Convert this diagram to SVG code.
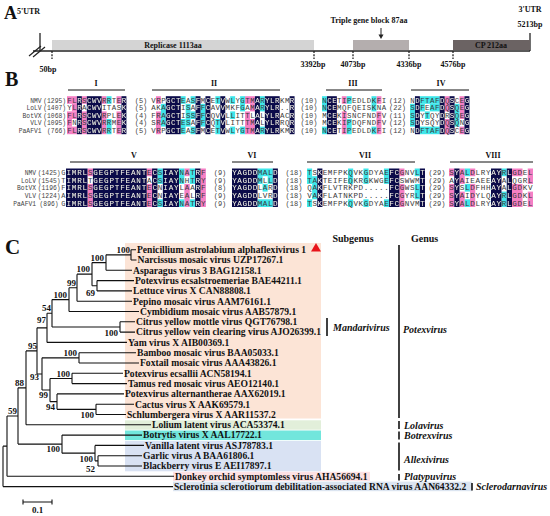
<svg xmlns="http://www.w3.org/2000/svg" width="550" height="516" viewBox="0 0 550 516">
<style>
.big{font-family:"Liberation Serif",serif;font-weight:bold;font-size:20px;fill:#111}
.a8{font-family:"Liberation Serif",serif;font-weight:bold;font-size:8px;fill:#111}
.nm{font-family:"Liberation Mono",monospace;font-size:6.3px;fill:#444}
.mot{font-family:"Liberation Serif",serif;font-weight:bold;font-size:8px;fill:#111}
.leaf{font-family:"Liberation Serif",serif;font-weight:bold;font-size:9.6px;fill:#111}
.bs{font-family:"Liberation Serif",serif;font-weight:bold;font-size:9px;fill:#111;text-anchor:end}
.gen{font-family:"Liberation Serif",serif;font-weight:bold;font-style:italic;font-size:10px;fill:#111}
.hdr{font-family:"Liberation Serif",serif;font-weight:bold;font-size:10px;fill:#111}
.edge{fill:none;stroke:#111;stroke-width:1.1}
.bar{stroke:#111;stroke-width:1.6}
.tick{stroke:#222;stroke-width:1.3;stroke-dasharray:2 1.2}
.pk{fill:#f57fc4}
.cy{fill:#3ee6ea}
.seqT{font-family:"Liberation Mono",monospace;font-size:7.4px}
.seqB{font-family:"Liberation Mono",monospace;font-size:7.6px}
</style>
<defs>
<g id="nv">
<rect x="76.9" y="96.2" width="4.95" height="38"/>
<rect x="86.8" y="96.2" width="14.85" height="38"/>
<rect x="121.45" y="96.2" width="4.95" height="38"/>
<rect x="165.85" y="96.2" width="14.85" height="38"/>
<rect x="195.55" y="96.2" width="4.95" height="38"/>
<rect x="205.45" y="96.2" width="4.95" height="38"/>
<rect x="220.3" y="96.2" width="4.95" height="38"/>
<rect x="254.95" y="96.2" width="4.95" height="38"/>
<rect x="264.85" y="96.2" width="14.85" height="38"/>
<rect x="289.6" y="96.2" width="4.95" height="38"/>
<rect x="326.95" y="96.2" width="9.9" height="38"/>
<rect x="414.95" y="96.2" width="4.95" height="38"/>
<rect x="439.7" y="96.2" width="4.95" height="38"/>
<rect x="449.6" y="96.2" width="4.95" height="38"/>
<rect x="464.45" y="96.2" width="4.95" height="38"/>
<rect x="66" y="168.5" width="21.52" height="38.5"/>
<rect x="92.9" y="168.5" width="53.8" height="38.5"/>
<rect x="152.08" y="168.5" width="5.38" height="38.5"/>
<rect x="162.84" y="168.5" width="16.14" height="38.5"/>
<rect x="195.12" y="168.5" width="5.38" height="38.5"/>
<rect x="232" y="168.5" width="25.5" height="38.5"/>
<rect x="272.8" y="168.5" width="5.1" height="38.5"/>
<rect x="317.26" y="168.5" width="5.13" height="38.5"/>
<rect x="389.08" y="168.5" width="10.26" height="38.5"/>
<rect x="419.86" y="168.5" width="5.13" height="38.5"/>
<rect x="454.25" y="168.5" width="5.25" height="38.5"/>
<rect x="491" y="168.5" width="10.5" height="38.5"/>
<rect x="506.75" y="168.5" width="5.25" height="38.5"/>
</g>
<mask id="nvm" maskUnits="userSpaceOnUse" x="0" y="0" width="550" height="516">
<use href="#nv" fill="#fff"/>
</mask>
<g id="seq">
<g class="seqT">
<text x="67.25" y="102.6" textLength="58.89" lengthAdjust="spacing">FLRSCWVRRTER</text>
<text x="67.25" y="110.2" textLength="58.89" lengthAdjust="spacing">YLRACWVITASK</text>
<text x="67.25" y="117.8" textLength="58.89" lengthAdjust="spacing">FLRSCWVRPLEK</text>
<text x="67.25" y="125.4" textLength="58.89" lengthAdjust="spacing">FNRSCWVRRMEK</text>
<text x="67.25" y="133" textLength="58.89" lengthAdjust="spacing">FLRSCWVRRTER</text>
<text x="151.25" y="102.6" textLength="143.04" lengthAdjust="spacing">VRPGCTEASFMCETVWLYGTMARYLRKMR</text>
<text x="151.25" y="110.2" textLength="143.04" lengthAdjust="spacing">AKAGCTISAFFCAVVMKFGAMARYLR..R</text>
<text x="151.25" y="117.8" textLength="143.04" lengthAdjust="spacing">FRAGCTISSFFCQVVLLITTLALYLRACR</text>
<text x="151.25" y="125.4" textLength="143.04" lengthAdjust="spacing">SRAGCTESAFFCQTVLITTTMALYLRRQR</text>
<text x="151.25" y="133" textLength="143.04" lengthAdjust="spacing">VRPGCTEASFMCETVWLYGTMARYLRKMR</text>
<text x="322.25" y="102.6" textLength="63.84" lengthAdjust="spacing">NCETIPEDLDKFI</text>
<text x="322.25" y="110.2" textLength="63.84" lengthAdjust="spacing">NCEMQFQEISKNA</text>
<text x="322.25" y="117.8" textLength="63.84" lengthAdjust="spacing">MCEKISNCFNDFV</text>
<text x="322.25" y="125.4" textLength="63.84" lengthAdjust="spacing">MCEKIPDQFNDFV</text>
<text x="322.25" y="133" textLength="63.84" lengthAdjust="spacing">NCETIPEDLDKFI</text>
<text x="410.25" y="102.6" textLength="58.89" lengthAdjust="spacing">NDFTAFDQSCEG</text>
<text x="410.25" y="110.2" textLength="58.89" lengthAdjust="spacing">SDFEAFDQSQEG</text>
<text x="410.25" y="117.8" textLength="58.89" lengthAdjust="spacing">SDYTQYDRSQEG</text>
<text x="410.25" y="125.4" textLength="58.89" lengthAdjust="spacing">SDYSQYDQSQNG</text>
<text x="410.25" y="133" textLength="58.89" lengthAdjust="spacing">NDFTAFDQSCEG</text>
</g>
<g class="seqB">
<text x="66.41" y="174.8" textLength="139.06" lengthAdjust="spacing">IMRLSGEGPTFEANTECSIAYNATRF</text>
<text x="66.41" y="182.5" textLength="139.06" lengthAdjust="spacing">IMRLTGEGPTFEANTACSIAYNHTRY</text>
<text x="66.41" y="190.2" textLength="139.06" lengthAdjust="spacing">IMRLSGEGPTFEANTECNIAYLAARF</text>
<text x="66.41" y="197.9" textLength="139.06" lengthAdjust="spacing">IMRLSGEGPTFEANTECNIAYEALRF</text>
<text x="66.41" y="205.6" textLength="139.06" lengthAdjust="spacing">IMRLSGEGPTFEANTECSIAYNATRY</text>
<text x="232.27" y="174.8" textLength="45.36" lengthAdjust="spacing">YAGDDMALD</text>
<text x="232.27" y="182.5" textLength="45.36" lengthAdjust="spacing">YAGDDMLLD</text>
<text x="232.27" y="190.2" textLength="45.36" lengthAdjust="spacing">YAGDDLARD</text>
<text x="232.27" y="197.9" textLength="45.36" lengthAdjust="spacing">YAGDDLVRD</text>
<text x="232.27" y="205.6" textLength="45.36" lengthAdjust="spacing">YAGDDMALD</text>
<text x="307.29" y="174.8" textLength="117.42" lengthAdjust="spacing">TSKEMFPKQVKGDYAEFCGNVLT</text>
<text x="307.29" y="182.5" textLength="117.42" lengthAdjust="spacing">TAKTEIFEQKRGKWGEFCSWWMT</text>
<text x="307.29" y="190.2" textLength="117.42" lengthAdjust="spacing">QAKFLVTRKPD.....FCGWSLT</text>
<text x="307.29" y="197.9" textLength="117.42" lengthAdjust="spacing">VAKFLATNKPD.....FCGYRLT</text>
<text x="307.29" y="205.6" textLength="117.42" lengthAdjust="spacing">TSKEMFPKQVKGDYAEFCGNVMT</text>
<text x="449.35" y="174.8" textLength="83.31" lengthAdjust="spacing">SYALDLRYAYRLGDEL</text>
<text x="449.35" y="182.5" textLength="83.31" lengthAdjust="spacing">AYAIEAEEAYALQGRL</text>
<text x="449.35" y="190.2" textLength="83.31" lengthAdjust="spacing">SYSLDFHHAYALGDKV</text>
<text x="449.35" y="197.9" textLength="83.31" lengthAdjust="spacing">SYAIDYLQAYRLGDKL</text>
<text x="449.35" y="205.6" textLength="83.31" lengthAdjust="spacing">SYALDLRYAYRLGDEL</text>
</g>
</g>
</defs>

<g id="panelA">
<text class="big" x="4" y="19" style="font-size:18px">A</text>
<text class="a8" x="17" y="14">5'UTR</text>
<text class="a8" x="530" y="12" text-anchor="middle">3'UTR</text>
<text class="a8" x="530" y="27" text-anchor="middle">5213bp</text>
<g id="genome-axis">
<line x1="33" y1="51" x2="530" y2="51" stroke="#222" stroke-width="1.6"/>
<line x1="40" y1="33" x2="40" y2="51" stroke="#222" stroke-width="1.3"/>
<line x1="530" y1="33" x2="530" y2="51" stroke="#222" stroke-width="1.3"/>
<line x1="29" y1="56" x2="41" y2="46" stroke="#222" stroke-width="1.2"/>
<line x1="33" y1="57" x2="45" y2="47" stroke="#222" stroke-width="1.2"/>
</g>
<g id="replicase">
<rect x="52" y="40" width="262" height="10" fill="#d4d4d4"/>
<text class="a8" x="173" y="48" text-anchor="middle">Replicase 1113aa</text>
</g>
<g id="tgb">
<rect x="353" y="40" width="56" height="10" fill="#b4aeae"/>
<text class="a8" x="369" y="23" text-anchor="middle">Triple gene block 87aa</text>
<line x1="381" y1="28" x2="381" y2="35" stroke="#222" stroke-width="1"/>
<polygon points="378.5,34.5 383.5,34.5 381,39" fill="#222"/>
</g>
<g id="cp">
<rect x="453" y="40" width="77" height="10" fill="#6b6363"/>
<text class="a8" x="491" y="48" text-anchor="middle">CP 212aa</text>
</g>
<g id="ticks">
<line class="tick" x1="52" y1="51" x2="52" y2="59"/>
<line class="tick" x1="314" y1="51" x2="314" y2="59"/>
<line class="tick" x1="353" y1="51" x2="353" y2="59"/>
<line class="tick" x1="409" y1="51" x2="409" y2="59"/>
<line class="tick" x1="453" y1="51" x2="453" y2="59"/>
<text class="a8" x="48" y="72" text-anchor="middle">50bp</text>
<text class="a8" x="313" y="67" text-anchor="middle">3392bp</text>
<text class="a8" x="353" y="67" text-anchor="middle">4073bp</text>
<text class="a8" x="409" y="67" text-anchor="middle">4336bp</text>
<text class="a8" x="453" y="67" text-anchor="middle">4576bp</text>
</g>
</g>

<g id="panelB">
<text class="big" x="5" y="86">B</text>
<g id="motifs" stroke="#111" stroke-width="1">
<line x1="68" y1="90" x2="125" y2="90"/>
<line x1="152" y1="90" x2="280" y2="90"/>
<line x1="326" y1="90" x2="382" y2="90"/>
<line x1="411" y1="90" x2="469" y2="90"/>
<line x1="70" y1="162" x2="200" y2="162"/>
<line x1="232" y1="162" x2="273" y2="162"/>
<line x1="307" y1="162" x2="415" y2="162"/>
<line x1="450" y1="162" x2="533" y2="162"/>
</g>
<g class="mot" text-anchor="middle">
<text x="96" y="86">I</text>
<text x="214" y="86">II</text>
<text x="353" y="86">III</text>
<text x="441" y="86">IV</text>
<text x="134" y="158">V</text>
<text x="252" y="158">VI</text>
<text x="365" y="158">VII</text>
<text x="493" y="158">VIII</text>
</g>
<g id="names" class="nm">
<g text-anchor="end">
<text x="41.5" y="102.6">NMV</text><text x="66" y="102.6">(1295)</text>
<text x="41.5" y="110.2">LoLV</text><text x="66" y="110.2">(1407)</text>
<text x="41.5" y="117.8">BotVX</text><text x="66" y="117.8">(1068)</text>
<text x="41.5" y="125.4">VLV</text><text x="66" y="125.4">(1095)</text>
<text x="41.5" y="133">PaAFV1</text><text x="66" y="133">(766)</text>
<text x="36" y="174.8">NMV</text><text x="60.5" y="174.8">(1425)</text>
<text x="36" y="182.5">LoLV</text><text x="60.5" y="182.5">(1545)</text>
<text x="36" y="190.2">BotVX</text><text x="60.5" y="190.2">(1196)</text>
<text x="36" y="197.9">VLV</text><text x="60.5" y="197.9">(1224)</text>
<text x="36" y="205.6">PaAFV1</text><text x="58.5" y="205.6">(896)</text>
</g>
<g style="font-size:7px">
<text x="61.3" y="174.8">G</text>
<text x="61.3" y="182.5">T</text>
<text x="61.3" y="190.2">F</text>
<text x="61.3" y="197.9">A</text>
<text x="61.3" y="205.6">G</text>
</g>
<g text-anchor="middle" style="font-size:7px">
<text x="141" y="102.6">(5)</text><text x="141" y="110.2">(5)</text><text x="141" y="117.8">(4)</text><text x="141" y="125.4">(4)</text><text x="141" y="133">(5)</text>
<text x="309" y="102.6">(10)</text><text x="309" y="110.2">(10)</text><text x="309" y="117.8">(10)</text><text x="309" y="125.4">(10)</text><text x="309" y="133">(10)</text>
<text x="397.5" y="102.6">(12)</text><text x="397.5" y="110.2">(22)</text><text x="397.5" y="117.8">(11)</text><text x="397.5" y="125.4">(12)</text><text x="397.5" y="133">(12)</text>
<text x="220" y="174.8">(9)</text><text x="220" y="182.5">(9)</text><text x="220" y="190.2">(8)</text><text x="220" y="197.9">(9)</text><text x="220" y="205.6">(9)</text>
<text x="294" y="174.8">(18)</text><text x="294" y="182.5">(18)</text><text x="294" y="190.2">(18)</text><text x="294" y="197.9">(18)</text><text x="294" y="205.6">(18)</text>
<text x="437" y="174.8">(29)</text><text x="437" y="182.5">(29)</text><text x="437" y="190.2">(29)</text><text x="437" y="197.9">(29)</text><text x="437" y="205.6">(29)</text>
</g>
</g>
<g id="shading">
<g class="pk">
<rect x="67" y="96.2" width="9.9" height="7.6"/>
<rect x="71.95" y="103.8" width="4.95" height="7.6"/>
<rect x="67" y="111.4" width="9.9" height="7.6"/>
<rect x="67" y="119" width="4.95" height="7.6"/>
<rect x="67" y="126.6" width="9.9" height="7.6"/>
<rect x="81.85" y="96.2" width="4.95" height="7.6"/><rect x="81.85" y="111.4" width="4.95" height="22.8"/>
<rect x="101.65" y="96.2" width="4.95" height="7.6"/><rect x="101.65" y="111.4" width="4.95" height="22.8"/>
<rect x="116.5" y="96.2" width="4.95" height="7.6"/><rect x="116.5" y="111.4" width="4.95" height="22.8"/>
<rect x="155.95" y="96.2" width="4.95" height="7.6"/><rect x="155.95" y="111.4" width="4.95" height="22.8"/>
<rect x="245.05" y="96.2" width="9.9" height="7.6"/>
<rect x="250" y="103.8" width="4.95" height="7.6"/>
<rect x="245.05" y="111.4" width="4.95" height="7.6"/>
<rect x="245.05" y="119" width="9.9" height="15.2"/>
<rect x="341.8" y="96.2" width="4.95" height="7.6"/><rect x="341.8" y="111.4" width="4.95" height="22.8"/>
<rect x="376.45" y="96.2" width="4.95" height="7.6"/><rect x="376.45" y="111.4" width="4.95" height="22.8"/>
<rect x="444.65" y="96.2" width="4.95" height="15.2"/><rect x="444.65" y="119" width="4.95" height="15.2"/>
<rect x="459.5" y="96.2" width="4.95" height="22.8"/><rect x="459.5" y="126.6" width="4.95" height="7.6"/>
<rect x="87.52" y="168.5" width="5.38" height="7.7"/><rect x="87.52" y="183.9" width="5.38" height="23.1"/>
<rect x="146.7" y="168.5" width="5.38" height="7.7"/><rect x="146.7" y="183.9" width="5.38" height="23.1"/>
<rect x="184.36" y="168.5" width="5.38" height="7.7"/><rect x="184.36" y="183.9" width="5.38" height="23.1"/>
<rect x="200.5" y="168.5" width="5.38" height="38.5"/>
<rect x="399.34" y="168.5" width="5.13" height="7.7"/><rect x="399.34" y="183.9" width="5.13" height="23.1"/>
<rect x="449" y="168.5" width="5.25" height="7.7"/><rect x="449" y="183.9" width="5.25" height="23.1"/>
<rect x="459.5" y="168.5" width="5.25" height="15.4"/><rect x="459.5" y="191.6" width="5.25" height="15.4"/>
<rect x="470" y="168.5" width="5.25" height="7.7"/><rect x="470" y="183.9" width="5.25" height="23.1"/>
<rect x="512" y="168.5" width="10.5" height="7.7"/><rect x="512" y="183.9" width="10.5" height="23.1"/>
<rect x="527.75" y="168.5" width="5.25" height="15.4"/><rect x="527.75" y="191.6" width="5.25" height="15.4"/>
</g>
<g class="cy">
<rect x="106.6" y="96.2" width="4.95" height="7.6"/><rect x="106.6" y="119" width="4.95" height="15.2"/>
<rect x="160.9" y="103.8" width="4.95" height="22.8"/>
<rect x="180.7" y="96.2" width="4.95" height="7.6"/><rect x="180.7" y="119" width="4.95" height="15.2"/>
<rect x="185.65" y="103.8" width="4.95" height="22.8"/>
<rect x="190.6" y="96.2" width="4.95" height="7.6"/><rect x="190.6" y="111.4" width="4.95" height="7.6"/><rect x="190.6" y="126.6" width="4.95" height="7.6"/>
<rect x="200.5" y="103.8" width="4.95" height="22.8"/>
<rect x="215.35" y="96.2" width="4.95" height="7.6"/><rect x="215.35" y="119" width="4.95" height="15.2"/>
<rect x="230.2" y="96.2" width="4.95" height="7.6"/><rect x="230.2" y="111.4" width="4.95" height="7.6"/><rect x="230.2" y="126.6" width="4.95" height="7.6"/>
<rect x="240.1" y="96.2" width="4.95" height="15.2"/><rect x="240.1" y="126.6" width="4.95" height="7.6"/>
<rect x="259.9" y="96.2" width="4.95" height="15.2"/><rect x="259.9" y="126.6" width="4.95" height="7.6"/>
<rect x="322" y="96.2" width="4.95" height="15.2"/><rect x="322" y="126.6" width="4.95" height="7.6"/>
<rect x="346.75" y="96.2" width="4.95" height="7.6"/><rect x="346.75" y="119" width="4.95" height="15.2"/>
<rect x="371.5" y="96.2" width="4.95" height="15.2"/><rect x="371.5" y="126.6" width="4.95" height="7.6"/>
<rect x="410" y="103.8" width="4.95" height="22.8"/>
<rect x="419.9" y="96.2" width="19.8" height="7.6"/>
<rect x="419.9" y="103.8" width="4.95" height="7.6"/><rect x="429.8" y="103.8" width="9.9" height="7.6"/>
<rect x="424.85" y="111.4" width="4.95" height="7.6"/>
<rect x="419.9" y="126.6" width="19.8" height="7.6"/>
<rect x="454.55" y="103.8" width="4.95" height="22.8"/>
<rect x="157.46" y="168.5" width="5.38" height="15.4"/><rect x="157.46" y="199.3" width="5.38" height="7.7"/>
<rect x="178.98" y="168.5" width="5.38" height="15.4"/><rect x="178.98" y="199.3" width="5.38" height="7.7"/>
<rect x="189.74" y="168.5" width="5.38" height="15.4"/><rect x="189.74" y="199.3" width="5.38" height="7.7"/>
<rect x="257.5" y="168.5" width="15.3" height="7.7"/>
<rect x="257.5" y="176.2" width="5.1" height="7.7"/><rect x="267.7" y="176.2" width="5.1" height="7.7"/>
<rect x="262.6" y="183.9" width="5.1" height="7.7"/>
<rect x="257.5" y="199.3" width="15.3" height="7.7"/>
<rect x="307" y="168.5" width="5.13" height="15.4"/><rect x="307" y="199.3" width="5.13" height="7.7"/>
<rect x="312.13" y="176.2" width="5.13" height="23.1"/>
<rect x="348.04" y="168.5" width="5.13" height="15.4"/><rect x="348.04" y="199.3" width="5.13" height="7.7"/>
<rect x="363.43" y="168.5" width="5.13" height="15.4"/><rect x="363.43" y="199.3" width="5.13" height="7.7"/>
<rect x="383.95" y="168.5" width="5.13" height="15.4"/><rect x="383.95" y="199.3" width="5.13" height="7.7"/>
<rect x="414.73" y="168.5" width="5.13" height="7.7"/><rect x="414.73" y="183.9" width="5.13" height="15.4"/>
<rect x="464.75" y="168.5" width="5.25" height="7.7"/><rect x="464.75" y="183.9" width="5.25" height="7.7"/><rect x="464.75" y="199.3" width="5.25" height="7.7"/>
<rect x="501.5" y="168.5" width="5.25" height="7.7"/><rect x="501.5" y="191.6" width="5.25" height="15.4"/>
</g>
<use href="#nv" fill="#0b0b4a"/>
</g>
<use href="#seq" fill="#3a3a3a"/>
<use href="#seq" fill="#f2f2f2" mask="url(#nvm)"/>
</g>

<g id="panelC">
<text class="big" x="5" y="254" style="font-size:21px">C</text>
<g id="clade-backgrounds">
<rect x="125" y="243" width="196" height="175.5" fill="#fce4d6"/>
<rect x="125" y="420.3" width="196" height="9.4" fill="#e2efda"/>
<rect x="125" y="430.5" width="196" height="9.6" fill="#72e6dc"/>
<rect x="125" y="441" width="196" height="30.3" fill="#d9e2f3"/>
<rect x="173" y="471.8" width="197" height="9.2" fill="#fde1e3"/>
<rect x="173" y="481.6" width="299" height="9.6" fill="#dce5f1"/>
</g>
<g id="tree-edges" class="edge">
<path d="M131 249.7V260M131 249.7H136M131 260H136.5M106 254.85H131"/>
<path d="M106 254.85V270.3M106 270.3H132M92 262.58H106"/>
<path d="M97 280.6V290.9M97 280.6H134M97 290.9H132M92 285.75H97"/>
<path d="M92 262.58V285.75M77 274.16H92"/>
<path d="M77 274.16V301.2M77 301.2H132M69 287.68H77"/>
<path d="M69 287.68V311.5M69 311.5H139M52 299.59H69"/>
<path d="M120 321.8V332.1M120 321.8H135M120 332.1H135M52 326.95H120"/>
<path d="M52 299.59V326.95M47 313.27H52"/>
<path d="M47 313.27V342.4M47 342.4H127M37 327.84H47"/>
<path d="M79 352.7V363M79 352.7H136M79 363H139M42 357.85H79"/>
<path d="M72 373.3V383.6M72 373.3H123M72 383.6H127M50 378.45H72"/>
<path d="M96 404.2V414.5M96 404.2H134M96 414.5H126M57 409.35H96"/>
<path d="M57 393.9V409.35M57 393.9H124M50 401.63H57"/>
<path d="M50 378.45V401.63M42 390.04H50"/>
<path d="M42 357.85V390.04M37 373.94H42"/>
<path d="M37 327.84V373.94M26 350.89H37"/>
<path d="M26 350.89V424.8M26 424.8H151M18 387.85H26"/>
<path d="M98 455.7V466M98 455.7H142M98 466H142M95 460.85H98"/>
<path d="M95 445.4V460.85M95 445.4H144M62 453.13H95"/>
<path d="M62 435.1V453.13M62 435.1H142M18 444.11H62"/>
<path d="M18 387.85V444.11M7 415.98H18"/>
<path d="M7 415.98V476.3M7 476.3H174M3 446.14H7"/>
<path d="M3 446.14V486.6M3 486.6H173"/>
</g>
<g id="bootstrap">
<text class="bs" x="130" y="253">100</text>
<text class="bs" x="104" y="260.5">100</text>
<text class="bs" x="90" y="272">100</text>
<text class="bs" x="95" y="296">69</text>
<text class="bs" x="76" y="286">99</text>
<text class="bs" x="67" y="298">100</text>
<text class="bs" x="51" y="311">54</text>
<text class="bs" x="46" y="323">97</text>
<text class="bs" x="118" y="336">100</text>
<text class="bs" x="37" y="349">95</text>
<text class="bs" x="77" y="356">100</text>
<text class="bs" x="70" y="377">100</text>
<text class="bs" x="39" y="380">93</text>
<text class="bs" x="24" y="386">88</text>
<text class="bs" x="48" y="398">99</text>
<text class="bs" x="55" y="410">94</text>
<text class="bs" x="94" y="418">100</text>
<text class="bs" x="17" y="414">59</text>
<text class="bs" x="60" y="452">100</text>
<text class="bs" x="93" y="462">100</text>
<text class="bs" x="95" y="472">52</text>
</g>
<g id="leaves" class="leaf">
<g id="leaf-0"><text x="137" y="253">Penicillium astrolabium alphaflexivirus 1</text><polygon points="311,251.5 321,251.5 316,243" fill="#e8141b"/></g>
<g id="leaf-1"><text x="137.5" y="263.3">Narcissus mosaic virus UZP17267.1</text></g>
<g id="leaf-2"><text x="133" y="273.6">Asparagus virus 3 BAG12158.1</text></g>
<g id="leaf-3"><text x="135" y="283.9">Potexvirus ecsalstroemeriae BAE44211.1</text></g>
<g id="leaf-4"><text x="133" y="294.2">Lettuce virus X CAN88808.1</text></g>
<g id="leaf-5"><text x="133" y="304.5">Pepino mosaic virus AAM76161.1</text></g>
<g id="leaf-6"><text x="140" y="314.8">Cymbidium mosaic virus AAB57879.1</text></g>
<g id="leaf-7"><text x="136" y="325.1">Citrus yellow mottle virus QGT76798.1</text></g>
<g id="leaf-8"><text x="136" y="335.4">Citrus yellow vein clearing virus AJO26399.1</text></g>
<g id="leaf-9"><text x="128" y="345.7">Yam virus X AIB00369.1</text></g>
<g id="leaf-10"><text x="137" y="356">Bamboo mosaic virus BAA05033.1</text></g>
<g id="leaf-11"><text x="140" y="366.3">Foxtail mosaic virus AAA43826.1</text></g>
<g id="leaf-12"><text x="124" y="376.6">Potexvirus ecsallii ACN58194.1</text></g>
<g id="leaf-13"><text x="128" y="386.9">Tamus red mosaic virus AEO12140.1</text></g>
<g id="leaf-14"><text x="125" y="397.2">Potexvirus alternantherae AAX62019.1</text></g>
<g id="leaf-15"><text x="135" y="407.5">Cactus virus X AAK69579.1</text></g>
<g id="leaf-16"><text x="127" y="417.8">Schlumbergera virus X AAR11537.2</text></g>
<g id="leaf-17"><text x="152" y="428.1">Lolium latent virus ACA53374.1</text></g>
<g id="leaf-18"><text x="143" y="438.4">Botrytis virus X AAL17722.1</text></g>
<g id="leaf-19"><text x="145" y="448.7">Vanilla latent virus ASJ78783.1</text></g>
<g id="leaf-20"><text x="143" y="459">Garlic virus A BAA61806.1</text></g>
<g id="leaf-21"><text x="143" y="469.3">Blackberry virus E AEI17897.1</text></g>
<g id="leaf-22"><text x="175" y="479.6">Donkey orchid symptomless virus AHA56694.1</text></g>
<g id="leaf-23"><text x="174" y="489.9">Sclerotinia sclerotiorum debilitation-associated RNA virus AAN64332.2</text></g>
</g>
<g id="taxonomy">
<text class="hdr" x="353" y="242" text-anchor="middle">Subgenus</text>
<text class="hdr" x="411" y="242">Genus</text>
<line class="bar" x1="327" y1="318" x2="327" y2="336"/>
<text class="gen" x="333" y="331">Mandarivirus</text>
<line class="bar" x1="399" y1="245" x2="399" y2="418"/>
<text class="gen" x="403" y="333">Potexvirus</text>
<line class="bar" x1="399" y1="421" x2="399" y2="429"/>
<text class="gen" x="404" y="428.5">Lolavirus</text>
<line class="bar" x1="399" y1="431.5" x2="399" y2="439.5"/>
<text class="gen" x="404" y="439">Botrexvirus</text>
<line class="bar" x1="399" y1="442.5" x2="399" y2="470.5"/>
<text class="gen" x="404" y="462.5">Allexivirus</text>
<line class="bar" x1="399" y1="474" x2="399" y2="480.5"/>
<text class="gen" x="404" y="479.8">Platypuvirus</text>
<line class="bar" x1="472" y1="483" x2="472" y2="490.5"/>
<text class="gen" x="476" y="490">Sclerodarnavirus</text>
</g>
<g id="scale-bar">
<path d="M23 502H52M23 499.5V504.5M52 499.5V504.5" fill="none" stroke="#111" stroke-width="1.1"/>
<text class="bs" x="37.5" y="513" style="text-anchor:middle">0.1</text>
</g>
</g>
</svg>
